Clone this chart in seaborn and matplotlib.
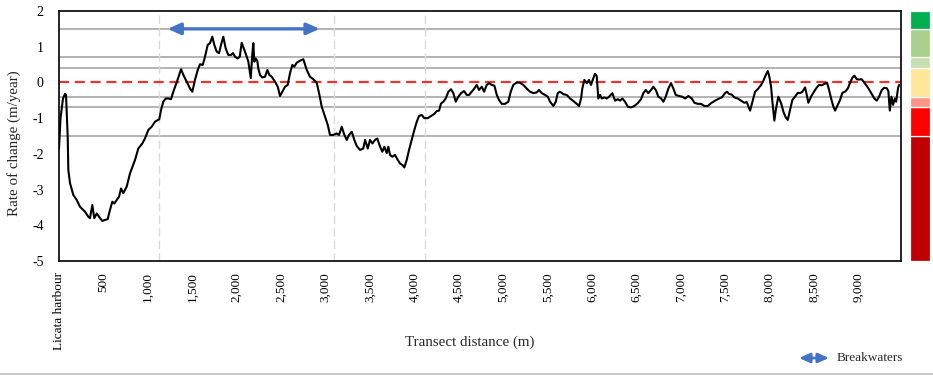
import numpy as np
import pandas as pd
import matplotlib
matplotlib.use("Agg")
import matplotlib.pyplot as plt
from matplotlib.lines import Line2D
from matplotlib.patches import FancyArrowPatch
import seaborn as sns

# Shoreline rate of change along the coast, measured from Licata harbour
distance_m = [
    0, 17, 45, 68, 79, 98, 105, 124, 161, 199, 236, 293, 330, 349, 375, 397, 425, 462, 488, 518,
    548, 574, 600, 623, 650, 676, 698, 724, 762, 799, 856, 893, 938, 968, 1006, 1044, 1081, 1129,
    1149, 1174, 1201, 1231, 1261, 1287, 1325, 1374, 1400, 1438, 1475, 1501, 1531, 1562, 1588,
    1618, 1644, 1674, 1700, 1726, 1749, 1776, 1802, 1824, 1850, 1877, 1906, 1937, 1959, 1982,
    2012, 2035, 2057, 2087, 2114, 2132, 2159, 2177, 2188, 2199, 2215, 2233, 2244, 2263, 2289,
    2320, 2346, 2368, 2395, 2432, 2463, 2488, 2514, 2545, 2575, 2601, 2627, 2649, 2676, 2714,
    2751, 2789, 2826, 2863, 2902, 2928, 2958, 2995, 3026, 3051, 3089, 3127, 3153, 3183, 3213,
    3240, 3265, 3296, 3325, 3352, 3389, 3426, 3446, 3476, 3502, 3528, 3558, 3584, 3615, 3640,
    3663, 3690, 3708, 3727, 3753, 3783, 3814, 3840, 3866, 3888, 3915, 3941, 3971, 4001, 4028,
    4054, 4084, 4113, 4152, 4189, 4226, 4253, 4279, 4301, 4327, 4354, 4384, 4414, 4440, 4467,
    4496, 4527, 4560, 4591, 4617, 4647, 4676, 4703, 4729, 4760, 4786, 4816, 4842, 4872, 4902,
    4929, 4954, 4985, 5022, 5059, 5086, 5115, 5154, 5191, 5228, 5266, 5303, 5341, 5379, 5405,
    5435, 5472, 5503, 5529, 5566, 5593, 5615, 5641, 5679, 5717, 5754, 5791, 5829, 5855, 5878,
    5892, 5915, 5942, 5968, 5990, 6016, 6035, 6054, 6072, 6092, 6111, 6140, 6167, 6193, 6230,
    6261, 6291, 6317, 6343, 6373, 6404, 6441, 6478, 6516, 6553, 6579, 6606, 6635, 6666, 6692,
    6719, 6748, 6779, 6805, 6831, 6861, 6891, 6917, 6944, 6981, 7018, 7049, 7086, 7124, 7154,
    7192, 7229, 7266, 7304, 7342, 7387, 7424, 7462, 7499, 7522, 7544, 7575, 7604, 7642, 7679,
    7716, 7743, 7781, 7807, 7837, 7867, 7905, 7931, 7958, 7980, 7998, 8017, 8032, 8054, 8073,
    8099, 8130, 8156, 8183, 8205, 8231, 8257, 8287, 8318, 8344, 8370, 8400, 8419, 8437, 8467,
    8493, 8532, 8558, 8588, 8618, 8648, 8670, 8693, 8719, 8738, 8768, 8794, 8820, 8850, 8881,
    8907, 8932, 8955, 8982, 9008, 9038, 9068, 9106, 9143, 9180, 9207, 9233, 9264, 9293, 9320,
    9338, 9354, 9372, 9391, 9410, 9425, 9448, 9460,
]
rate_m_per_year = [
    -1.85, -1.00, -0.45, -0.32, -0.35, -1.52, -2.45, -2.82, -3.15, -3.29, -3.48, -3.62, -3.76,
    -3.80, -3.43, -3.80, -3.67, -3.80, -3.88, -3.85, -3.83, -3.57, -3.34, -3.39, -3.29, -3.20,
    -2.97, -3.10, -2.92, -2.55, -2.17, -1.85, -1.71, -1.57, -1.33, -1.24, -1.10, -1.03, -0.77,
    -0.54, -0.45, -0.45, -0.47, -0.26, 0.00, 0.37, 0.21, 0.02, -0.17, -0.26, 0.07, 0.35, 0.51,
    0.49, 0.72, 1.05, 1.10, 1.28, 1.05, 0.86, 0.82, 1.05, 1.28, 0.95, 0.77, 0.77, 0.82, 0.72,
    0.67, 0.72, 1.11, 0.91, 0.72, 0.58, 0.12, 0.82, 1.10, 0.58, 0.67, 0.60, 0.39, 0.21, 0.14,
    0.16, 0.35, 0.21, 0.16, 0.02, -0.12, -0.38, -0.26, -0.12, -0.07, 0.26, 0.49, 0.44, 0.55,
    0.61, 0.65, 0.35, 0.16, 0.09, -0.01, -0.30, -0.68, -0.96, -1.19, -1.47, -1.47, -1.43, -1.47,
    -1.24, -1.47, -1.61, -1.47, -1.38, -1.61, -1.78, -1.89, -1.85, -1.61, -1.85, -1.61, -1.71,
    -1.61, -1.57, -1.80, -1.94, -1.80, -1.98, -1.80, -2.03, -2.08, -2.03, -2.17, -2.27, -2.31,
    -2.38, -2.17, -1.89, -1.61, -1.33, -1.10, -0.94, -0.91, -1.00, -1.00, -0.94, -0.88, -0.80,
    -0.79, -0.59, -0.54, -0.45, -0.26, -0.19, -0.30, -0.54, -0.40, -0.30, -0.24, -0.35, -0.35,
    -0.26, -0.17, -0.07, -0.21, -0.12, -0.26, -0.07, -0.02, -0.07, -0.09, -0.35, -0.49, -0.60,
    -0.60, -0.54, -0.26, -0.07, 0.00, -0.01, -0.07, -0.17, -0.26, -0.30, -0.28, -0.21, -0.30,
    -0.35, -0.40, -0.54, -0.66, -0.54, -0.30, -0.26, -0.33, -0.35, -0.45, -0.52, -0.60, -0.66,
    -0.45, -0.17, 0.07, -0.02, 0.07, -0.07, 0.12, 0.24, 0.18, -0.45, -0.35, -0.45, -0.42, -0.45,
    -0.40, -0.30, -0.51, -0.47, -0.51, -0.45, -0.54, -0.68, -0.70, -0.66, -0.58, -0.47, -0.30,
    -0.21, -0.30, -0.21, -0.12, -0.21, -0.40, -0.45, -0.54, -0.40, -0.17, -0.02, -0.17, -0.35,
    -0.38, -0.40, -0.45, -0.38, -0.45, -0.57, -0.60, -0.60, -0.66, -0.66, -0.58, -0.51, -0.46,
    -0.42, -0.30, -0.26, -0.32, -0.34, -0.42, -0.45, -0.51, -0.57, -0.55, -0.79, -0.54, -0.26,
    -0.19, -0.07, 0.05, 0.21, 0.32, 0.16, -0.12, -0.54, -1.07, -0.73, -0.40, -0.58, -0.82, -0.98,
    -1.05, -0.77, -0.49, -0.40, -0.29, -0.30, -0.26, -0.14, -0.35, -0.57, -0.40, -0.29, -0.14,
    -0.07, -0.08, -0.04, -0.01, -0.21, -0.45, -0.68, -0.79, -0.63, -0.49, -0.29, -0.26, -0.17,
    -0.01, 0.13, 0.19, 0.09, 0.08, 0.09, -0.01, -0.14, -0.29, -0.45, -0.51, -0.40, -0.21, -0.15,
    -0.16, -0.25, -0.79, -0.40, -0.63, -0.45, -0.54, -0.14, -0.07,
]

# Class thresholds of the rate of change and the colour of each class
class_bounds = [-5, -1.5, -0.7, -0.4, 0.4, 0.7, 1.5, 2]
class_colors = ["#C00000", "#FF0000", "#FF9584", "#FFE699", "#C6E0B4", "#A9D08E", "#00B050"]
threshold_lines = [1.5, 0.7, 0.4, -0.4, -0.7, -1.5]

# Structures along the shore and breakwater stretch
section_marks = [1130, 3100, 4120]
breakwater_span = [1222, 2936]

x_ticks = [0, 500, 1000, 1500, 2000, 2500, 3000, 3500, 4000, 4500,
           5000, 5500, 6000, 6500, 7000, 7500, 8000, 8500, 9000]
x_tick_labels = ["Licata harbour", "500", "1,000", "1,500", "2,000", "2,500", "3,000",
                 "3,500", "4,000", "4,500", "5,000", "5,500", "6,000", "6,500",
                 "7,000", "7,500", "8,000", "8,500", "9,000"]
y_ticks = [-5, -4, -3, -2, -1, 0, 1, 2]

sns.set_theme(style="white")
plt.rcParams["font.family"] = ["Liberation Serif", "DejaVu Serif"]

W, H = 933, 375
fig = plt.figure(figsize=(W / 100, H / 100), dpi=100)
ax = fig.add_axes([59 / W, 1 - 261 / H, (901 - 59) / W, 250 / H])

for yv in threshold_lines:
    ax.axhline(yv, color="#A6A6A6", lw=1.2, zorder=1)
ax.axhline(0, color="#E8332F", lw=1.6, ls=(0, (4.5, 2.6)), zorder=2)
for xv in section_marks:
    ax.axvline(xv, color="#D9D9D9", lw=1.0, ls=(0, (6, 3)), zorder=1)

df = pd.DataFrame({"distance": distance_m, "rate": rate_m_per_year})
sns.lineplot(data=df, x="distance", y="rate", color="black", lw=1.5,
             estimator=None, sort=False, ax=ax, zorder=3)

ax.annotate("", xy=(breakwater_span[0], 1.5), xytext=(breakwater_span[1], 1.5),
            arrowprops=dict(arrowstyle="<|-|>,head_length=0.45,head_width=0.2",
                            color="#4472C4", lw=2.4, mutation_scale=17,
                            shrinkA=0, shrinkB=0), zorder=4)

ax.set_xlim(0, 9480)
ax.set_ylim(-5, 2)
ax.set_xticks(x_ticks)
ax.set_xticklabels(x_tick_labels, rotation=90, fontsize=9.5)
ax.set_yticks(y_ticks)
ax.set_yticklabels([str(v) for v in y_ticks], fontsize=10)
ax.tick_params(axis="both", length=0, colors="black")
ax.tick_params(axis="x", pad=8)
ax.tick_params(axis="y", pad=11)
ax.set_xlabel("")
ax.set_ylabel("")
for s in ax.spines.values():
    s.set_visible(True)
    s.set_color("black")
    s.set_linewidth(1.2)

# Classification scale beside the plot
cax = fig.add_axes([910 / W, 1 - 261 / H, 20 / W, 250 / H])
lows = class_bounds[:-1]
heights = [b - a for a, b in zip(class_bounds[:-1], class_bounds[1:])]
cax.bar([0] * len(heights), heights, bottom=lows, width=1.0, color=class_colors,
        edgecolor="white", linewidth=0.9)
cax.set_xlim(-0.5, 0.5)
cax.set_ylim(-5, 2)
cax.axis("off")

fig.text(14 / W, 1 - 143 / H, "Rate of change (m/year)", rotation=90,
         ha="center", va="center", fontsize=10.8)
fig.text(470 / W, 1 - 342 / H, "Transect distance (m)", ha="center", va="center",
         fontsize=10.8)

# Key for the breakwater arrow
fig.add_artist(FancyArrowPatch(
    (799 / W, 1 - 358 / H), (829 / W, 1 - 358 / H), transform=fig.transFigure,
    arrowstyle="<|-|>,head_length=0.45,head_width=0.2", color="#4472C4", lw=2.0,
    mutation_scale=14, shrinkA=0, shrinkB=0))
fig.text(837 / W, 1 - 358 / H, "Breakwaters", ha="left", va="center", fontsize=9.5)

fig.add_artist(Line2D([0, 1], [0.6 / H, 0.6 / H], transform=fig.transFigure,
                      color="#BFBFBF", lw=1.2))

fig.savefig("out.png", dpi=100)
